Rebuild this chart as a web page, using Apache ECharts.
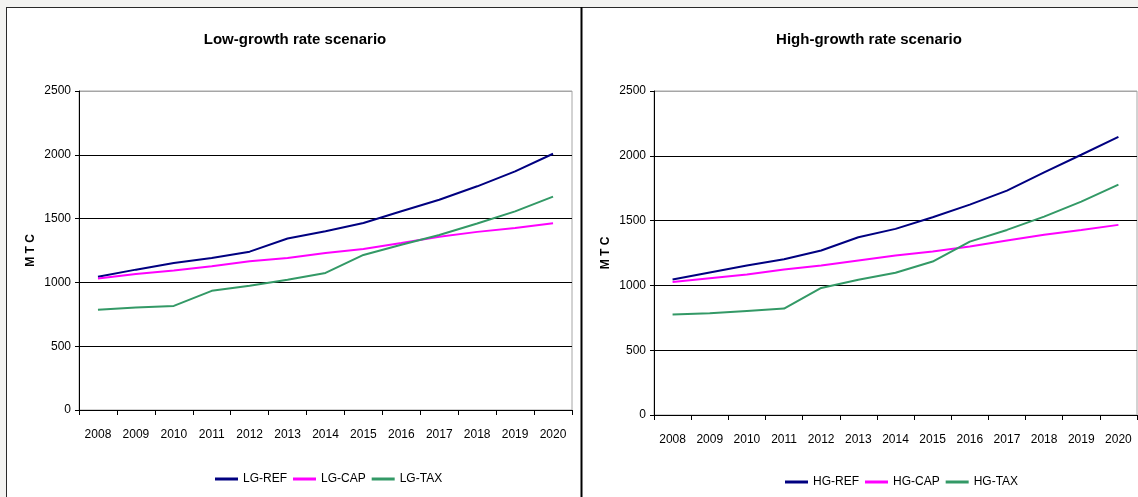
<!DOCTYPE html>
<html>
<head>
<meta charset="utf-8">
<script src="https://cdn.jsdelivr.net/npm/echarts@6/dist/echarts.min.js"></script>
<style>
  html, body { margin: 0; padding: 0; background: #f3f3f1; }
  #chart { width: 1138px; height: 497px; }
</style>
</head>
<body>
<div id="chart"></div>
<script>
// Carbon emissions (MTC) by policy scenario, 2008-2020
const years = ['2008', '2009', '2010', '2011', '2012', '2013', '2014', '2015', '2016', '2017', '2018', '2019', '2020'];

// Low-growth rate scenario
const lgRef = [1045, 1100, 1152, 1192, 1241, 1344, 1401, 1466, 1557, 1648, 1753, 1870, 2008];
const lgCap = [1031, 1066, 1094, 1126, 1165, 1192, 1231, 1262, 1308, 1357, 1396, 1427, 1464];
const lgTax = [785, 803, 816, 934, 974, 1021, 1074, 1215, 1295, 1372, 1461, 1557, 1672];

// High-growth rate scenario
const hgRef = [1046, 1100, 1154, 1202, 1269, 1372, 1436, 1526, 1623, 1731, 1872, 2008, 2146];
const hgCap = [1026, 1056, 1084, 1123, 1154, 1192, 1230, 1261, 1300, 1346, 1390, 1428, 1467];
const hgTax = [775, 785, 803, 821, 980, 1044, 1097, 1184, 1338, 1428, 1531, 1646, 1777];

const yMax = 2500;
const yStep = 500;

const FONT = '"Liberation Sans", Arial, sans-serif';
const COL_REF = '#000080';
const COL_CAP = '#ff00ff';
const COL_TAX = '#339966';

const chart = echarts.init(document.getElementById('chart'), null, { renderer: 'canvas' });

function xAxisFor(gridIndex) {
  return {
    type: 'category',
    gridIndex: gridIndex,
    data: years,
    boundaryGap: true,
    axisLine: { show: true, lineStyle: { color: '#000', width: 1 } },
    axisTick: { show: true, length: 5, inside: false, lineStyle: { color: '#000' } },
    axisLabel: { color: '#000', fontFamily: FONT, fontSize: 12, margin: 19, interval: 0 },
    splitLine: { show: false }
  };
}

function yAxisFor(gridIndex) {
  return {
    type: 'value',
    gridIndex: gridIndex,
    min: 0,
    max: yMax,
    interval: yStep,
    name: 'M T C',
    nameLocation: 'middle',
    nameGap: 42,
    nameTextStyle: { color: '#000', fontFamily: FONT, fontSize: 12, fontWeight: 'bold' },
    axisLine: { show: true, lineStyle: { color: '#000', width: 1 } },
    axisTick: { show: true, length: 4, lineStyle: { color: '#000' } },
    axisLabel: {
      color: '#000', fontFamily: FONT, fontSize: 12, margin: 8,
      formatter: function (v) { return String(v); }
    },
    splitLine: {
      show: true,
      lineStyle: { color: ['#000', '#000', '#000', '#000', '#000', '#a6a6a6'], width: 1 }
    }
  };
}

function lineSeries(name, data, color, axisIndex) {
  return {
    name: name,
    type: 'line',
    xAxisIndex: axisIndex,
    yAxisIndex: axisIndex,
    data: data,
    showSymbol: false,
    symbol: 'none',
    smooth: false,
    lineStyle: { color: color, width: 2 },
    itemStyle: { color: color },
    emphasis: { disabled: true },
    animation: false
  };
}

function legendFor(names, leftX, top) {
  return {
    data: names,
    left: leftX,
    top: top,
    padding: 0,
    orient: 'horizontal',
    icon: 'rect',
    itemWidth: 23,
    itemHeight: 3,
    itemGap: 6,
    textStyle: { color: '#000', fontFamily: FONT, fontSize: 12 },
    selectedMode: false
  };
}

const option = {
  backgroundColor: '#f3f3f1',
  animation: false,
  graphic: [
    // white panels with their frames
    { type: 'rect', z: -10, silent: true, shape: { x: 6, y: 7, width: 1132, height: 490 }, style: { fill: '#ffffff' } },
    { type: 'line', z: 100, silent: true, shape: { x1: 6, y1: 7.5, x2: 1138, y2: 7.5 }, style: { stroke: '#2a2a2a', lineWidth: 1 } },
    { type: 'line', z: 100, silent: true, shape: { x1: 6.5, y1: 7, x2: 6.5, y2: 497 }, style: { stroke: '#2a2a2a', lineWidth: 1 } },
    { type: 'line', z: 100, silent: true, shape: { x1: 581.5, y1: 7, x2: 581.5, y2: 497 }, style: { stroke: '#000000', lineWidth: 2 } }
  ],
  title: [
    {
      text: 'Low-growth rate scenario',
      left: 290, top: 27, textAlign: 'center',
      textStyle: { color: '#000', fontFamily: FONT, fontSize: 15, fontWeight: 'bold' }
    },
    {
      text: 'High-growth rate scenario',
      left: 864, top: 27, textAlign: 'center',
      textStyle: { color: '#000', fontFamily: FONT, fontSize: 15, fontWeight: 'bold' }
    }
  ],
  legend: [
    legendFor(['LG-REF', 'LG-CAP', 'LG-TAX'], 215, 473),
    legendFor(['HG-REF', 'HG-CAP', 'HG-TAX'], 785, 476)
  ],
  grid: [
    { left: 79, top: 91, width: 493, height: 319, show: true, borderColor: '#a6a6a6', borderWidth: 1, backgroundColor: '#fff', containLabel: false },
    { left: 654, top: 91, width: 483, height: 324, show: true, borderColor: '#a6a6a6', borderWidth: 1, backgroundColor: '#fff', containLabel: false }
  ],
  xAxis: [xAxisFor(0), xAxisFor(1)],
  yAxis: [yAxisFor(0), yAxisFor(1)],
  series: [
    lineSeries('LG-REF', lgRef, COL_REF, 0),
    lineSeries('LG-CAP', lgCap, COL_CAP, 0),
    lineSeries('LG-TAX', lgTax, COL_TAX, 0),
    lineSeries('HG-REF', hgRef, COL_REF, 1),
    lineSeries('HG-CAP', hgCap, COL_CAP, 1),
    lineSeries('HG-TAX', hgTax, COL_TAX, 1)
  ]
};

chart.setOption(option);
</script>
</body>
</html>
